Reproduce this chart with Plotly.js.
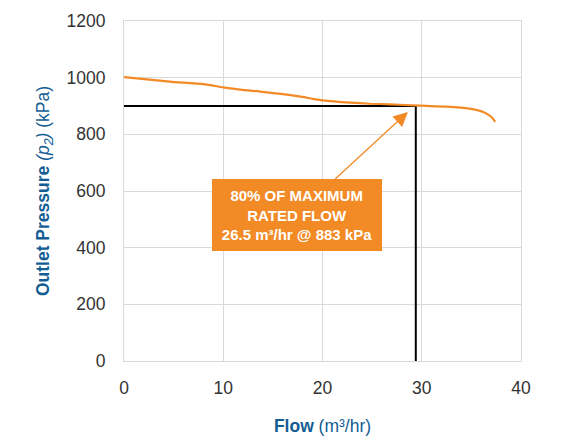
<!DOCTYPE html>
<html>
<head>
<meta charset="utf-8">
<script src="https://cdn.plot.ly/plotly-3.0.1.min.js"></script>
<style>html,body{margin:0;padding:0;background:#fff;}#chart{width:567px;height:439px;}</style>
</head>
<body>
<div id="chart"></div>
<script>
// Pump curve: flow (m3/hr) vs outlet pressure (kPa)
const flow =     [0,    4.6, 8,   10,  11.7, 13.7, 16,  18,  19,  20,  22.8, 24.8, 26.8, 29.8, 32.5, 34.8, 36.2, 37.0, 37.4];
const pressure = [1002, 986, 977, 966, 958,  951,  942, 932, 925, 920, 912,  908,  906,  901,  898,  891,  879,  862,  844];

// Operating point reference lines
const opFlow = 29.4;
const opPressure = 900;
const hLineX = [0, opFlow];
const hLineY = [opPressure, opPressure];
const vLineX = [opFlow, opFlow];
const vLineY = [0, opPressure];

// Annotation
const noteText = "<b>80% OF MAXIMUM<br>RATED FLOW<br>26.5 m³/hr @ 883 kPa</b>";
const arrowHead = {x: 28.6, y: 879};
const noteCenter = {x: 17.4, y: 517};

const xTicks = [0, 10, 20, 30, 40];
const yTicks = [0, 200, 400, 600, 800, 1000, 1200];

const orange = "#F28A26";
const blue = "#125D94";
const fontFam = "Liberation Sans, Arial, Helvetica, sans-serif";

const traces = [
  {x: hLineX, y: hLineY, mode: "lines", line: {color: "#000", width: 2}, hoverinfo: "skip", showlegend: false},
  {x: vLineX, y: vLineY, mode: "lines", line: {color: "#000", width: 2}, hoverinfo: "skip", showlegend: false},
  {x: flow, y: pressure, mode: "lines", line: {color: orange, width: 2.2, shape: "spline", smoothing: 0.6}, showlegend: false}
];

const layout = {
  width: 567, height: 439,
  margin: {l: 124, r: 46, t: 21, b: 78},
  paper_bgcolor: "#fff", plot_bgcolor: "#fff",
  font: {family: fontFam, color: "#333", size: 17},
  showlegend: false,
  xaxis: {
    range: [0, 40], tickvals: xTicks, ticktext: xTicks.map(String),
    showgrid: true, gridcolor: "#d9d9d9", gridwidth: 1,
    showline: true, linecolor: "#d9d9d9", linewidth: 1, mirror: true,
    zeroline: false, ticks: "outside", ticklen: 11, tickcolor: "rgba(0,0,0,0)",
    tickfont: {size: 17.5, color: "#333"},
    title: {text: "<b>Flow</b> (m³/hr)", font: {size: 17.5, color: blue}, standoff: 22}
  },
  yaxis: {
    range: [0, 1200], tickvals: yTicks, ticktext: yTicks.map(String),
    showgrid: true, gridcolor: "#d9d9d9", gridwidth: 1,
    showline: true, linecolor: "#d9d9d9", linewidth: 1, mirror: true,
    zeroline: false, ticks: "outside", ticklen: 14, tickcolor: "rgba(0,0,0,0)",
    tickfont: {size: 17.5, color: "#333"},
    title: {text: "<b>Outlet Pressure</b> <i>(p<sub>2</sub>)</i> (kPa)", font: {size: 17.5, color: blue}, standoff: 12}
  },
  annotations: [{
    x: arrowHead.x, y: arrowHead.y, xref: "x", yref: "y",
    ax: noteCenter.x, ay: noteCenter.y, axref: "x", ayref: "y",
    text: noteText, showarrow: true,
    arrowcolor: orange, arrowwidth: 1.3, arrowhead: 2, arrowsize: 2.2,
    bgcolor: orange, borderpad: 5, bordercolor: orange,
    font: {family: fontFam, size: 15, color: "#fff"},
    align: "center", width: 158, height: 60
  }]
};

Plotly.newPlot("chart", traces, layout, {displayModeBar: false, staticPlot: true});
</script>
</body>
</html>
